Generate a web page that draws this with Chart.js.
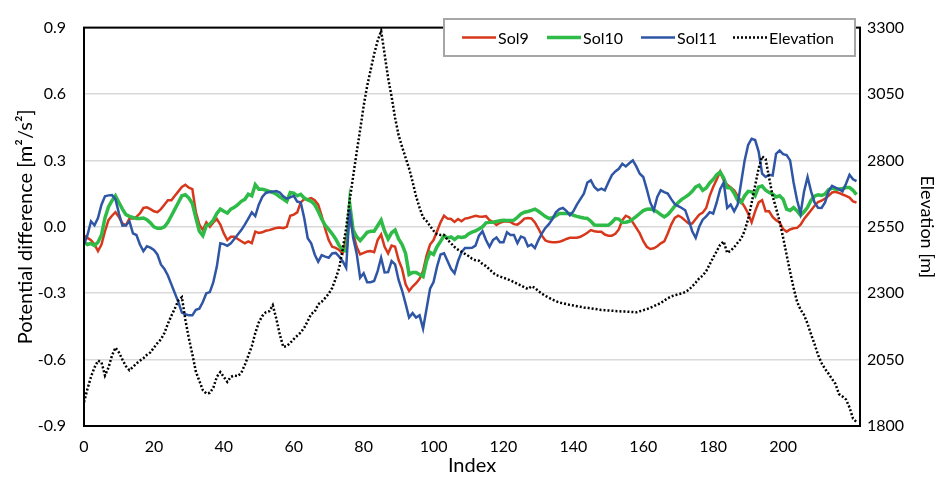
<!DOCTYPE html>
<html>
<head>
<meta charset="utf-8">
<script src="https://cdn.jsdelivr.net/npm/chart.js@4.4.1/dist/chart.umd.min.js"></script>
<style>
  html, body { margin: 0; padding: 0; background: #fff; }
  #wrap { width: 949px; height: 478px; }
</style>
</head>
<body>
<div id="wrap"><canvas id="chart" width="949" height="478"></canvas></div>
<script>
// values, one per index (0..221)
const sol9 = [
  -0.04, -0.05, -0.06, -0.08, -0.11, -0.08, -0.02, 0.03, 0.05, 0.066,
  0.044, 0.015, 0.007, 0.037, 0.037, 0.045, 0.06, 0.085, 0.088, 0.08,
  0.07, 0.066, 0.08, 0.10, 0.12, 0.12, 0.14, 0.16, 0.18, 0.19,
  0.177, 0.17, 0.066, 0.01, -0.015, 0.02, 0.0,
  0.02, 0.035, 0.01, -0.03, -0.06, -0.045, -0.045, -0.055, -0.065, -0.075,
  -0.066, -0.074, -0.022, -0.028, -0.025, -0.018, -0.015, -0.01, -0.005, -0.003,
  -0.006, 0.0, 0.05, 0.055, 0.065, 0.11, 0.125, 0.125, 0.13, 0.12,
  0.1, 0.05, -0.01, -0.06, -0.09, -0.095, -0.105, -0.12,
  -0.05, 0.04, -0.03, -0.09, -0.125, -0.118, -0.112, -0.11, -0.115, -0.06,
  -0.035, -0.09, -0.12, -0.085, -0.09, -0.15, -0.19, -0.26, -0.29, -0.27,
  -0.255, -0.235, -0.2, -0.13, -0.08, -0.06, -0.02, 0.02, 0.05, 0.037,
  0.035, 0.022, 0.035, 0.025, 0.037, 0.04, 0.045, 0.05, 0.047, 0.045, 0.048, 0.03,
  0.022, 0.008, 0.018, 0.024, 0.025, 0.022, 0.012, 0.01, 0.022, 0.037,
  0.04, 0.038, 0.02, -0.008, -0.04, -0.062, -0.068, -0.07, -0.07, -0.068,
  -0.062, -0.055, -0.05, -0.05, -0.049, -0.045, -0.037, -0.027, -0.015, -0.02,
  -0.022, -0.022, -0.035, -0.04, -0.04, -0.032, -0.012,
  0.03, 0.05, 0.042, 0.02, -0.005, -0.03, -0.065, -0.09, -0.1, -0.097,
  -0.088, -0.075, -0.066, -0.03, 0.01, 0.04, 0.05, 0.042, 0.028, 0.015,
  0.015, 0.035, 0.055, 0.064, 0.085, 0.14, 0.18, 0.214, 0.25, 0.21,
  0.19, 0.178, 0.165, 0.14, 0.115, 0.09, 0.06,
  0.02, 0.07, 0.11, 0.12, 0.07, 0.07, 0.045, 0.03, 0.02, -0.01,
  -0.022, -0.012, -0.007, -0.005, 0.01, 0.035, 0.055, 0.075, 0.095, 0.112,
  0.118, 0.128, 0.14, 0.155, 0.158, 0.153, 0.146, 0.14, 0.132, 0.115, 0.11
];

const sol10 = [
  -0.07, -0.08, -0.075, -0.085, -0.07, -0.037, 0.04, 0.09, 0.118, 0.14,
  0.11, 0.08, 0.055, 0.047, 0.042, 0.038, 0.038, 0.04, 0.032, 0.018,
  0.0, -0.007, -0.007, 0.0, 0.02, 0.05, 0.08, 0.11, 0.14, 0.145,
  0.13, 0.105, 0.04, -0.02, -0.04, 0.005, 0.012, 0.03, 0.06,
  0.08, 0.07, 0.062, 0.08, 0.088, 0.1, 0.115, 0.124, 0.147, 0.14,
  0.19, 0.17, 0.17, 0.165, 0.16, 0.155, 0.148, 0.135, 0.125, 0.114,
  0.155, 0.152, 0.14, 0.147, 0.13, 0.122, 0.115, 0.1, 0.07, 0.035,
  0.007, -0.012, -0.032, -0.055, -0.085, -0.105, -0.11, 0.105,
  -0.015, -0.045, -0.062, -0.044, -0.025, -0.02, -0.02, 0.005, 0.03, -0.02,
  -0.055, -0.027, -0.015, -0.055, -0.08, -0.12, -0.215, -0.206, -0.206, -0.215,
  -0.225, -0.155, -0.115, -0.125, -0.09, -0.066, -0.04, -0.05, -0.046, -0.058,
  -0.045, -0.048, -0.045, -0.032, -0.024, -0.018, -0.01, 0.0, 0.018, 0.02,
  0.021, 0.024, 0.027, 0.03, 0.029, 0.028, 0.03, 0.043, 0.058, 0.066,
  0.069, 0.074, 0.08, 0.07, 0.058, 0.046, 0.038, 0.041, 0.05, 0.06,
  0.06, 0.06, 0.06, 0.052, 0.047, 0.043, 0.04, 0.038, 0.025, 0.008,
  0.007, 0.007, 0.007, 0.007, 0.02, 0.037, 0.035,
  0.02, 0.021, 0.025, 0.035, 0.047, 0.06, 0.073, 0.079, 0.08, 0.076,
  0.067, 0.055, 0.045, 0.055, 0.073, 0.093, 0.11, 0.124, 0.134, 0.145,
  0.16, 0.18, 0.188, 0.165, 0.175, 0.198, 0.214, 0.235, 0.247, 0.22,
  0.177, 0.175, 0.152, 0.12, 0.11, 0.14, 0.16,
  0.158, 0.14, 0.18, 0.184, 0.165, 0.155, 0.148, 0.135, 0.14, 0.125,
  0.08, 0.074, 0.087, 0.072, 0.052, 0.068, 0.088, 0.12, 0.138, 0.145,
  0.142, 0.148, 0.168, 0.175, 0.17, 0.17, 0.173, 0.177, 0.177, 0.165, 0.145
];

const sol11 = [
  -0.08, -0.037, 0.025, 0.007, 0.04, 0.1, 0.138, 0.142, 0.143, 0.125,
  0.06, 0.005, 0.007, 0.025, -0.03, -0.037, -0.08, -0.11, -0.088, -0.094,
  -0.105, -0.125, -0.17, -0.19, -0.22, -0.26, -0.3, -0.34, -0.388, -0.395,
  -0.4, -0.4, -0.375, -0.37, -0.34, -0.3, -0.295, -0.25, -0.18,
  -0.074, -0.078, -0.086, -0.075, -0.055, -0.035, -0.015, 0.01, 0.037, 0.065,
  0.048, 0.1, 0.135, 0.153, 0.157, 0.159, 0.162, 0.155, 0.138, 0.127,
  0.133, 0.14, 0.114, 0.11, 0.04, -0.052, -0.075, -0.125, -0.158, -0.128,
  -0.135, -0.14, -0.12, -0.118, -0.135, -0.155, -0.185, 0.08, -0.05,
  -0.12, -0.23, -0.21, -0.25, -0.25, -0.245, -0.2, -0.14, -0.206, -0.205,
  -0.155, -0.17, -0.24, -0.288, -0.347, -0.41, -0.39, -0.41, -0.4, -0.46,
  -0.37, -0.28, -0.25, -0.18, -0.125, -0.12, -0.155, -0.19, -0.21, -0.155,
  -0.115, -0.096, -0.096, -0.095, -0.085, -0.04, -0.02, -0.06, -0.09,
  -0.06, -0.048, -0.07, -0.07, -0.025, -0.037, -0.037, -0.074, -0.044, -0.05,
  -0.088, -0.08, -0.096, -0.06, -0.03, -0.005, 0.012, 0.035, 0.066, 0.08,
  0.085, 0.072, 0.052, 0.07, 0.1, 0.125, 0.15, 0.2, 0.21, 0.18,
  0.165, 0.172, 0.165, 0.2, 0.233, 0.25, 0.262, 0.285,
  0.273, 0.287, 0.3, 0.273, 0.24, 0.225, 0.17, 0.11, 0.075, 0.135,
  0.165, 0.157, 0.15, 0.125, 0.103, 0.093, 0.085, 0.075, 0.03, -0.02,
  -0.05, 0.0, 0.032, 0.047, 0.066, 0.06, 0.11, 0.17, 0.2, 0.085,
  0.1, 0.07, 0.1, 0.2, 0.3, 0.37,
  0.398, 0.392, 0.34, 0.24, 0.225, 0.235, 0.232, 0.33, 0.345, 0.328,
  0.324, 0.3, 0.2, 0.12, 0.06, 0.16, 0.225, 0.16, 0.11, 0.086,
  0.085, 0.11, 0.16, 0.185, 0.177, 0.17, 0.16, 0.195, 0.235, 0.215, 0.206
];

const elevation = [
  1890, 1940, 1985, 2020, 2046, 2040, 1990, 2020, 2065, 2095,
  2077, 2050, 2025, 2010, 2022, 2035, 2046, 2055, 2068, 2077,
  2095, 2112, 2126, 2150, 2185, 2215, 2243, 2273, 2285, 2200,
  2130, 2070, 2005, 1970, 1935, 1922, 1925, 1944, 1985,
  2003, 1985, 1966, 1985, 1990, 1988, 2000, 2030, 2065, 2100,
  2150, 2190, 2214, 2228, 2232, 2255, 2205, 2145, 2098, 2101,
  2113, 2127, 2140, 2152, 2170, 2195, 2222, 2230, 2258, 2268,
  2282, 2298, 2320, 2355, 2395, 2465, 2545, 2650, 2740,
  2830, 2915, 3005, 3080, 3140, 3200, 3250, 3288, 3200, 3110,
  3040, 2960, 2895, 2851, 2810, 2770, 2720, 2665, 2622, 2585,
  2572, 2553, 2535, 2522, 2519, 2519, 2501, 2488, 2474, 2464,
  2456, 2448, 2440, 2430, 2424, 2422, 2410, 2402, 2390,
  2377, 2368, 2363, 2358, 2354, 2348, 2342, 2335, 2329, 2322,
  2316, 2326, 2320, 2308, 2298, 2290, 2283, 2276, 2270, 2265,
  2262, 2259, 2256, 2254, 2251, 2249, 2246, 2245, 2243, 2241,
  2239, 2237, 2236, 2235, 2234, 2233, 2232, 2231,
  2231, 2230, 2229, 2228, 2232, 2236, 2240, 2245, 2251, 2257,
  2263, 2272, 2281, 2288, 2292, 2296, 2299, 2304, 2313, 2325,
  2340, 2356, 2366, 2383, 2409, 2434, 2458, 2482, 2495, 2452,
  2460, 2473, 2490, 2505, 2535, 2580, 2640, 2705, 2770,
  2815, 2805, 2735, 2665, 2620, 2570, 2510, 2445, 2380, 2320,
  2268, 2238, 2218, 2185, 2145, 2108, 2068, 2037, 2015, 1997,
  1977, 1958, 1920, 1911, 1900, 1870, 1828, 1815
];

const seriesNames = ['Sol9', 'Sol10', 'Sol11', 'Elevation'];
const xTicks = [0, 20, 40, 60, 80, 100, 120, 140, 160, 180, 200];
const leftTicks = [-0.9, -0.6, -0.3, 0.0, 0.3, 0.6, 0.9];
const rightTicks = [1800, 2050, 2300, 2550, 2800, 3050, 3300];

const indexes = sol9.map((_, i) => i);
const toPoints = (vals) => vals.map((v, i) => ({ x: indexes[i], y: v }));

const FONT = 'Lato, "Open Sans", sans-serif';

// plot frame + legend box drawn like the original
const frameAndLegend = {
    id: 'frameAndLegend',
    afterDatasetsDraw(chart) {
        const { ctx, chartArea: a } = chart;
        ctx.save();
        ctx.strokeStyle = '#000';
        ctx.lineWidth = 2;
        ctx.strokeRect(a.left, a.top, a.right - a.left, a.bottom - a.top);

        // legend
        const bx = 444, by = 19, bw = 411, bh = 37;
        ctx.fillStyle = '#fff';
        ctx.fillRect(bx, by, bw, bh);
        ctx.strokeStyle = '#a6a6a6';
        ctx.lineWidth = 2;
        ctx.strokeRect(bx, by, bw, bh);

        const starts = [462, 547, 641, 733];
        const cy = by + bh / 2;
        ctx.font = '16px ' + FONT;
        ctx.textBaseline = 'middle';
        ctx.fillStyle = '#000';
        chart.data.datasets.forEach((ds, i) => {
            const x0 = starts[i];
            ctx.beginPath();
            ctx.strokeStyle = ds.borderColor;
            ctx.lineWidth = ds.borderWidth;
            ctx.setLineDash(ds.borderDash || []);
            ctx.moveTo(x0, cy);
            ctx.lineTo(x0 + 34, cy);
            ctx.stroke();
            ctx.setLineDash([]);
            ctx.fillText(ds.label, x0 + 36, cy + 1);
        });
        ctx.restore();
    }
};

new Chart(document.getElementById('chart'), {
    type: 'line',
    data: {
        datasets: [
            { label: seriesNames[0], data: toPoints(sol9), borderColor: '#D7381C', borderWidth: 2.5, yAxisID: 'y', order: 4 },
            { label: seriesNames[1], data: toPoints(sol10), borderColor: '#2EBB47', borderWidth: 3.5, yAxisID: 'y', order: 3 },
            { label: seriesNames[2], data: toPoints(sol11), borderColor: '#2F55A5', borderWidth: 2.5, yAxisID: 'y', order: 2 },
            { label: seriesNames[3], data: toPoints(elevation), borderColor: '#000', borderWidth: 2.5, borderDash: [2, 2], yAxisID: 'y2', order: 1 }
        ]
    },
    options: {
        responsive: false,
        animation: false,
        layout: { padding: { top: 15, left: 0, right: 0, bottom: 0 } },
        elements: { point: { radius: 0 }, line: { tension: 0, borderCapStyle: 'butt' } },
        plugins: { legend: { display: false }, tooltip: { enabled: false } },
        scales: {
            x: {
                type: 'linear',
                min: 0,
                max: 222,
                afterFit: (s) => { s.height = 52; },
                afterBuildTicks: (s) => { s.ticks = xTicks.map((v) => ({ value: v })); },
                ticks: { color: '#000', font: { family: FONT, size: 16 }, padding: 11, maxRotation: 0 },
                grid: { display: false, drawTicks: false },
                border: { display: false },
                title: { display: true, text: 'Index', color: '#000', font: { family: FONT, size: 20 }, padding: { top: 0, bottom: 0 } }
            },
            y: {
                position: 'left',
                min: -0.9,
                max: 0.9,
                afterFit: (s) => { s.width = 84; },
                afterBuildTicks: (s) => { s.ticks = leftTicks.map((v) => ({ value: v })); },
                ticks: { color: '#000', font: { family: FONT, size: 16 }, padding: 18, callback: (v) => Number(v).toFixed(1) },
                grid: { color: '#d9d9d9', lineWidth: 1.5, drawTicks: false },
                border: { display: false },
                title: { display: true, text: 'Potential difference [m²/s²]', color: '#000', font: { family: FONT, size: 20 }, padding: { top: 14, bottom: 0 } }
            },
            y2: {
                position: 'right',
                min: 1800,
                max: 3300,
                afterFit: (s) => { s.width = 89; },
                afterBuildTicks: (s) => { s.ticks = rightTicks.map((v) => ({ value: v })); },
                ticks: { color: '#000', font: { family: FONT, size: 16 }, padding: 7, callback: (v) => String(v) },
                grid: { display: false, drawTicks: false },
                border: { display: false },
                title: { display: true, text: 'Elevation [m]', color: '#000', font: { family: FONT, size: 18 }, padding: { top: 11, bottom: 0 } }
            }
        }
    },
    plugins: [frameAndLegend]
});
</script>
</body>
</html>
